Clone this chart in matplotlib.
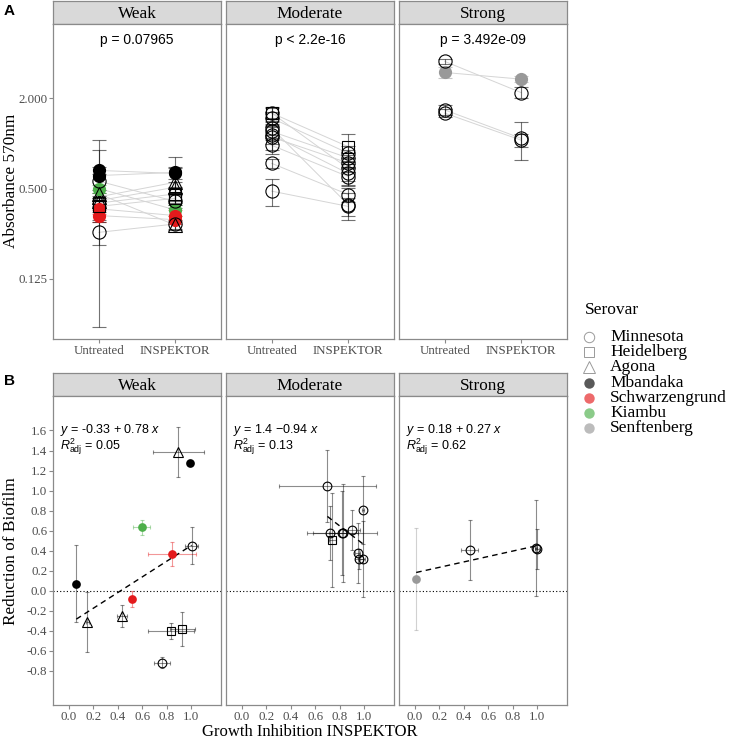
import numpy as np
import matplotlib.pyplot as plt
from matplotlib.colors import to_rgba

plt.rcParams['font.family'] = 'Liberation Serif'
plt.rcParams['axes.unicode_minus'] = False
plt.rcParams['mathtext.fontset'] = 'custom'
plt.rcParams['mathtext.rm'] = 'Liberation Sans'
plt.rcParams['mathtext.it'] = 'Liberation Sans:italic'

# ---------------- data ----------------
serovars = ['Minnesota', 'Heidelberg', 'Agona', 'Mbandaka', 'Schwarzengrund', 'Kiambu', 'Senftenberg']
ser_color = {'Minnesota': 'black', 'Heidelberg': 'black', 'Agona': 'black', 'Mbandaka': 'black',
             'Schwarzengrund': '#e41a1c', 'Kiambu': '#4daf4a', 'Senftenberg': '#999999'}
ser_marker = {'Minnesota': 'o', 'Heidelberg': 's', 'Agona': '^', 'Mbandaka': 'o',
              'Schwarzengrund': 'o', 'Kiambu': 'o', 'Senftenberg': 'o'}
filled = ['Mbandaka', 'Schwarzengrund', 'Kiambu', 'Senftenberg']

groups = ['Weak', 'Moderate', 'Strong']
treatments = ['Untreated', 'INSPEKTOR']
p_labels = ['p = 0.07965', 'p < 2.2e-16', 'p = 3.492e-09']

# panel A: absorbance per strain
weak_serovar = ['Mbandaka', 'Agona', 'Agona', 'Schwarzengrund', 'Kiambu', 'Minnesota',
                'Heidelberg', 'Schwarzengrund', 'Agona', 'Heidelberg', 'Minnesota', 'Mbandaka']
weak_untreated = [0.66, 0.44, 0.415, 0.33, 0.50, 0.56, 0.40, 0.366, 0.46, 0.38, 0.255, 0.61]
weak_untreated_sd = [0.04, 0.03, 0.03, 0.03, 0.03, 0.50, 0.03, 0.03, 0.03, 0.03, 0.045, 0.30]
weak_inspektor = [0.63, 0.55, 0.51, 0.31, 0.36, 0.41, 0.46, 0.33, 0.285, 0.43, 0.29, 0.64]
weak_inspektor_sd = [0.05, 0.15, 0.04, 0.02, 0.03, 0.04, 0.05, 0.03, 0.02, 0.04, 0.02, 0.17]

mod_serovar = ['Minnesota', 'Minnesota', 'Heidelberg', 'Minnesota', 'Minnesota',
               'Minnesota', 'Minnesota', 'Minnesota', 'Minnesota', 'Minnesota']
mod_untreated = [1.47, 1.20, 1.59, 1.10, 1.14, 0.97, 1.59, 0.735, 0.48, 1.26]
mod_untreated_sd = [0.15, 0.15, 0.12, 0.20, 0.15, 0.12, 0.17, 0.05, 0.10, 0.12]
mod_inspektor = [0.86, 0.80, 0.95, 0.74, 0.63, 0.60, 0.68, 0.456, 0.38, 0.39]
mod_inspektor_sd = [0.10, 0.10, 0.20, 0.10, 0.10, 0.08, 0.12, 0.05, 0.05, 0.08]

str_serovar = ['Senftenberg', 'Minnesota', 'Minnesota', 'Minnesota']
str_untreated = [2.97, 1.67, 3.52, 1.59]
str_untreated_sd = [0.25, 0.12, 0.15, 0.10]
str_inspektor = [2.68, 1.08, 2.18, 1.05]
str_inspektor_sd = [0.12, 0.30, 0.18, 0.10]

# panel B: growth inhibition vs reduction of biofilm
weak_gi = [0.06, 0.15, 0.435, 0.52, 0.595, 0.76, 0.835, 0.845, 0.895, 0.93, 1.005, 0.995]
weak_gi_sd = [0.01, 0.01, 0.04, 0.01, 0.07, 0.065, 0.19, 0.20, 0.21, 0.10, 0.05, 0.01]
weak_red = [0.07, -0.31, -0.25, -0.08, 0.635, -0.72, -0.40, 0.365, 1.385, -0.38, 0.45, 1.28]
weak_red_sd = [0.385, 0.30, 0.11, 0.08, 0.075, 0.055, 0.08, 0.12, 0.245, 0.17, 0.185, 0.02]

mod_gi = [0.70, 0.72, 0.74, 0.82, 0.83, 0.90, 0.95, 0.96, 0.99, 0.99]
mod_gi_sd = [0.40, 0.14, 0.03, 0.29, 0.12, 0.07, 0.02, 0.03, 0.02, 0.01]
mod_red = [1.046, 0.573, 0.507, 0.573, 0.573, 0.606, 0.374, 0.318, 0.318, 0.81]
mod_red_sd = [0.36, 0.27, 0.47, 0.42, 0.49, 0.20, 0.30, 0.10, 0.38, 0.34]

str_gi = [0.01, 0.45, 0.99, 1.00]
str_gi_sd = [0.0, 0.07, 0.01, 0.02]
str_red = [0.12, 0.41, 0.43, 0.42]
str_red_sd = [0.51, 0.30, 0.48, 0.20]

fit_intercept = [-0.33, 1.4, 0.18]
fit_slope = [0.78, -0.94, 0.27]
eq_labels = [r'$y$ = -0.33 + 0.78 $x$', r'$y$ = 1.4 $-$0.94 $x$', r'$y$ = 0.18 + 0.27 $x$']
r2_labels = [r'$R^{2}_{\mathrm{adj}}$ = 0.05', r'$R^{2}_{\mathrm{adj}}$ = 0.13', r'$R^{2}_{\mathrm{adj}}$ = 0.62']

panelA = [(weak_serovar, weak_untreated, weak_untreated_sd, weak_inspektor, weak_inspektor_sd),
          (mod_serovar, mod_untreated, mod_untreated_sd, mod_inspektor, mod_inspektor_sd),
          (str_serovar, str_untreated, str_untreated_sd, str_inspektor, str_inspektor_sd)]
panelB = [(weak_serovar, weak_gi, weak_gi_sd, weak_red, weak_red_sd),
          (mod_serovar, mod_gi, mod_gi_sd, mod_red, mod_red_sd),
          (str_serovar, str_gi, str_gi_sd, str_red, str_red_sd)]

# ---------------- layout ----------------
W, H = 729, 740
fig = plt.figure(figsize=(W / 100, H / 100), dpi=100)


def px_axes(x0, y0, x1, y1):
    return fig.add_axes([x0 / W, 1 - y1 / H, (x1 - x0) / W, (y1 - y0) / H])


border = '#8a8a8a'
tick_col = '#4d4d4d'


def style(ax):
    for s in ax.spines.values():
        s.set_color(border)
        s.set_linewidth(0.9)
    ax.tick_params(colors=border, labelcolor=tick_col, labelsize=9.3, length=3, width=0.8, pad=1.2)


def strip(x0, y0, x1, y1, label):
    s = px_axes(x0, y0, x1, y1)
    s.set_facecolor('#d9d9d9')
    s.set_xticks([])
    s.set_yticks([])
    for sp in s.spines.values():
        sp.set_color(border)
        sp.set_linewidth(0.9)
    s.text(0.5, 0.45, label, ha='center', va='center', fontsize=12.4, transform=s.transAxes)


def point(ax, x, y, ser, scale):
    m = ser_marker[ser]
    ms = {'o': 9.5, 's': 8.5, '^': 10.5}[m] * scale
    if ser in filled:
        ax.plot(x, y, marker=m, ms=ms, mfc=ser_color[ser], mec=ser_color[ser], mew=0,
                ls='none', zorder=4)
    else:
        ax.plot(x, y, marker=m, ms=ms, mfc='none', mec='black', mew=0.8, ls='none', zorder=4)


cols = [(53, 221), (226, 394), (399, 567)]

# ---- panel A ----
for i, (x0, x1) in enumerate(cols):
    strip(x0, 1, x1, 24, groups[i])
    ax = px_axes(x0, 24, x1, 339)
    style(ax)
    sers, u, usd, ins, isd = panelA[i]
    for s, a, asd, b, bsd in zip(sers, u, usd, ins, isd):
        ax.plot([1, 2], [a, b], color='#d5d5d5', lw=0.7, zorder=1)
        ec = to_rgba(ser_color[s], 0.55)
        ax.errorbar([1, 2], [a, b], yerr=[asd, bsd], fmt='none', ecolor=ec, elinewidth=0.8,
                    capsize=4.7, capthick=0.8, zorder=2)
        point(ax, 1, a, s, 1.0)
        point(ax, 2, b, s, 1.0)
    ax.set_yscale('log', base=2)
    ax.set_ylim(0.0496, 6.25)
    ax.set_xlim(0.4, 2.6)
    ax.set_xticks([1, 2])
    ax.set_xticklabels(treatments)
    ax.minorticks_off()
    if i == 0:
        ax.set_yticks([0.125, 0.5, 2.0])
        ax.set_yticklabels(['0.125', '0.500', '2.000'])
    else:
        ax.set_yticks([])
    ax.text(1.5, 0.949, p_labels[i], transform=ax.get_xaxis_transform(), ha='center',
            va='center', fontsize=10, family='Liberation Sans')

# ---- panel B ----
for i, (x0, x1) in enumerate(cols):
    strip(x0, 373, x1, 396, groups[i])
    ax = px_axes(x0, 396, x1, 705)
    style(ax)
    sers, gx, gxsd, ry, rysd = panelB[i]
    ax.axhline(0, color='black', ls=(0, (1, 2)), lw=0.8, zorder=1)
    for s, a, asd, b, bsd in zip(sers, gx, gxsd, ry, rysd):
        ec = to_rgba(ser_color[s], 0.45)
        ax.errorbar(a, b, xerr=asd, yerr=bsd, fmt='none', ecolor=ec, elinewidth=0.8,
                    capsize=1.6, capthick=0.8, zorder=2)
        point(ax, a, b, s, 0.66)
    xs = np.array([min(gx), max(gx)])
    ax.plot(xs, fit_intercept[i] + fit_slope[i] * xs, color='black', ls=(0, (4, 3)), lw=1,
            zorder=3)
    ax.set_xlim(-0.131, 1.246)
    ax.set_ylim(-1.14, 1.944)
    ax.set_xticks(np.arange(0, 1.01, 0.2))
    ax.set_xticklabels(['%.1f' % v for v in np.arange(0, 1.01, 0.2)])
    if i == 0:
        yt = np.arange(-0.8, 1.61, 0.2)
        ax.set_yticks(yt)
        ax.set_yticklabels(['%.1f' % (v + 0.0) if abs(v) > 1e-9 else '0.0' for v in yt])
    else:
        ax.set_yticks([])
    ax.text(0.042, 0.891, eq_labels[i], transform=ax.transAxes, ha='left', va='center',
            fontsize=9, family='Liberation Sans')
    ax.text(0.042, 0.836, r2_labels[i], transform=ax.transAxes, ha='left', va='center',
            fontsize=9, family='Liberation Sans')

# ---- axis titles and panel tags ----
fig.text(11 / W, 1 - 181 / H, 'Absorbance 570nm', rotation=90, ha='center', va='center',
         fontsize=12.4)
fig.text(11 / W, 1 - 551 / H, 'Reduction of Biofilm', rotation=90, ha='center', va='center',
         fontsize=12.4)
fig.text(310 / W, 1 - 736.2 / H, 'Growth Inhibition INSPEKTOR', ha='center', va='baseline',
         fontsize=12)
fig.text(4 / W, 1 - 11 / H, 'A', ha='left', va='center', fontsize=11, fontweight='bold',
         family='Liberation Sans')
fig.text(4 / W, 1 - 381 / H, 'B', ha='left', va='center', fontsize=11, fontweight='bold',
         family='Liberation Sans')

# ---- legend ----
lg = fig.add_axes([0, 0, 1, 1])
lg.set_xlim(0, W)
lg.set_ylim(H, 0)
lg.axis('off')
lg.text(585, 310, 'Serovar', ha='left', va='center', fontsize=12.5)
for k, s in enumerate(serovars):
    yy = 337 + 15.2 * k
    m = ser_marker[s]
    if s in filled:
        lg.plot(589, yy, marker=m, ms=7.5, mfc=ser_color[s], mec='none', alpha=0.65, ls='none')
    else:
        lg.plot(589, yy, marker=m, ms={'o': 7.5, 's': 7.5, '^': 9}[m], mfc='none',
                mec='#9a9a9a', mew=0.7, ls='none')
    lg.text(610, yy, s, ha='left', va='center', fontsize=12.5)

fig.savefig('out.png', dpi=100)
